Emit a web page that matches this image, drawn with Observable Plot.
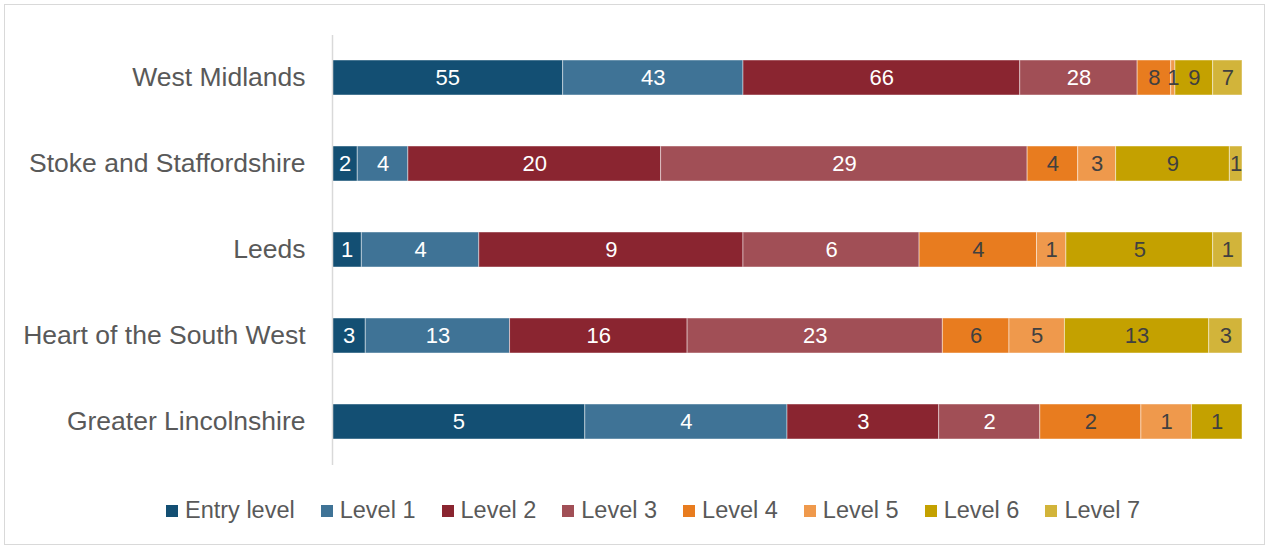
<!DOCTYPE html>
<html>
<head>
<meta charset="utf-8">
<script src="https://cdn.jsdelivr.net/npm/d3@7"></script>
<script src="https://cdn.jsdelivr.net/npm/@observablehq/plot@0.6"></script>
<style>
  html, body { margin: 0; padding: 0; background: #fff; }
  body { width: 1269px; height: 550px; position: relative; overflow: hidden; font-family: "Liberation Sans", Arial, sans-serif; }
  #frame { position: absolute; left: 4px; top: 4px; width: 1261px; height: 541px; border: 1px solid #d9d9d9; box-sizing: border-box; }
  #chart { position: absolute; left: 0; top: 0; }
  #legend { position: absolute; left: 166px; top: 497px; display: flex; align-items: center; gap: 26px; font-size: 23.5px; color: #595959; }
  .item { display: flex; align-items: center; }
  .sw { width: 12px; height: 12px; margin-right: 7px; display: inline-block; }
</style>
</head>
<body>
<div id="frame"></div>
<div id="chart"></div>
<div id="legend"></div>
<script>
const regions = ["West Midlands", "Stoke and Staffordshire", "Leeds", "Heart of the South West", "Greater Lincolnshire"];
const levels = ["Entry level", "Level 1", "Level 2", "Level 3", "Level 4", "Level 5", "Level 6", "Level 7"];
const colors = ["#134f73", "#3f7396", "#8a2530", "#a14f56", "#e87c1f", "#ef994c", "#c4a100", "#d2b43a"];
const labelColors = ["#ffffff", "#ffffff", "#ffffff", "#ffffff", "#404040", "#404040", "#404040", "#404040"];
const westMidlands = [55, 43, 66, 28, 8, 1, 9, 7];
const stokeStaffs = [2, 4, 20, 29, 4, 3, 9, 1];
const leeds = [1, 4, 9, 6, 4, 1, 5, 1];
const heartSouthWest = [3, 13, 16, 23, 6, 5, 13, 3];
const greaterLincs = [5, 4, 3, 2, 2, 1, 1, 0];

const series = [westMidlands, stokeStaffs, leeds, heartSouthWest, greaterLincs];
const data = [];
regions.forEach((r, i) => {
  levels.forEach((l, j) => {
    if (series[i][j] > 0) data.push({region: r, level: l, value: series[i][j], li: j});
  });
});

const chart = Plot.plot({
  width: 1269,
  height: 480,
  marginLeft: 332,
  marginRight: 27,
  marginTop: 35,
  marginBottom: 15,
  style: {fontFamily: "'Liberation Sans', Arial, sans-serif", background: "transparent"},
  x: {axis: null},
  y: {domain: regions, paddingInner: 0.59, paddingOuter: 0.288, label: null, tickSize: 0, tickPadding: 27},
  color: {domain: levels, range: colors},
  marks: [
    Plot.barX(data, Plot.stackX({
      x: "value", y: "region", fill: "level", order: levels, offset: "normalize",
      stroke: "#ffffff", strokeOpacity: 0.45, strokeWidth: 1, inset: 0
    })),
    Plot.text(data, Plot.stackX({
      x: "value", y: "region", z: "level", order: levels, offset: "normalize",
      text: d => String(d.value), fill: d => labelColors[d.li], fontSize: 22
    })),
    Plot.ruleX([0], {stroke: "#d9d9d9", strokeWidth: 1.5}),
    Plot.axisY({tickSize: 0, tickPadding: 27, fontSize: 26.5, fill: "#595959", label: null})
  ]
});
document.getElementById("chart").appendChild(chart);

const legend = document.getElementById("legend");
levels.forEach((l, j) => {
  const it = document.createElement("div");
  it.className = "item";
  const sw = document.createElement("span");
  sw.className = "sw";
  sw.style.background = colors[j];
  const tx = document.createElement("span");
  tx.textContent = l;
  it.appendChild(sw);
  it.appendChild(tx);
  legend.appendChild(it);
});
</script>
</body>
</html>
